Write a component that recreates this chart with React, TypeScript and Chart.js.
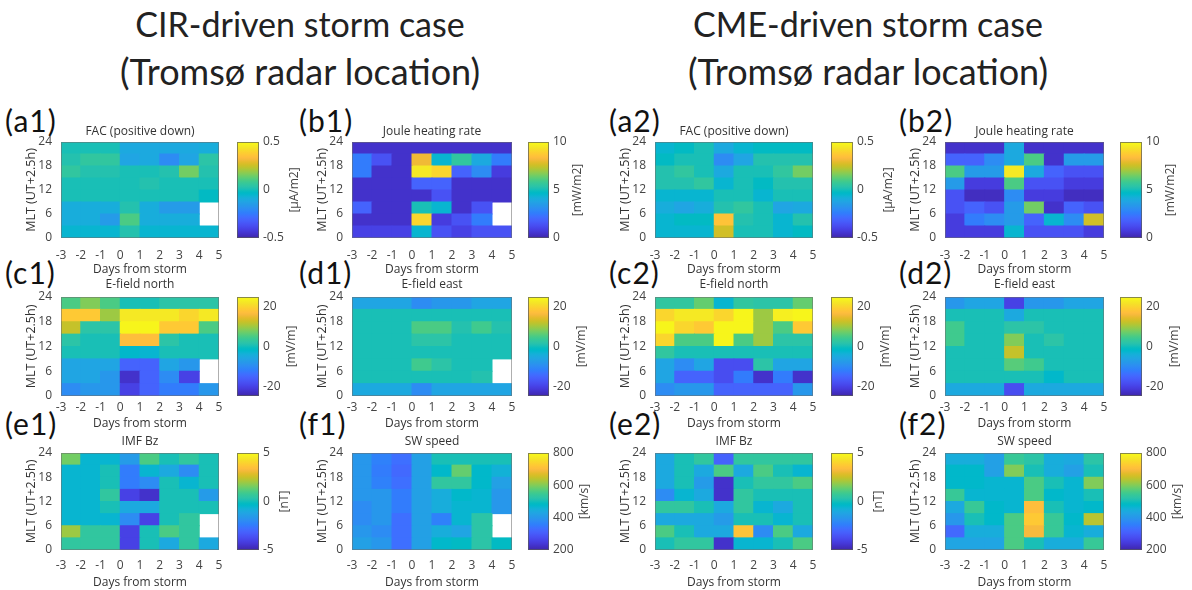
import React, { useEffect, useRef } from 'react';
import { Chart, registerables } from 'chart.js';
Chart.register(...registerables);

// ---------- data ----------
const DAY_CENTERS = [-2.5, -1.5, -0.5, 0.5, 1.5, 2.5, 3.5, 4.5];
const MLT_EDGES = [0, 3, 6, 9, 12, 15, 18, 21, 24];
const X_TICKS = [-3, -2, -1, 0, 1, 2, 3, 4, 5];
const Y_TICKS = [0, 6, 12, 18, 24];

const FAC_TICKS = [-0.5, 0, 0.5];
const JOULE_TICKS = [0, 5, 10];
const EFIELD_TICKS = [-20, 0, 20];
const BZ_TICKS = [-5, 0, 5];
const SW_TICKS = [200, 400, 600, 800];

const FAC_RANGE = [-0.5, 0.5];
const JOULE_RANGE = [0, 10];
const EFIELD_RANGE = [-25, 25];
const BZ_RANGE = [-5, 5];
const SW_RANGE = [200, 800];

// each grid: rows from MLT 21-24 (top) down to MLT 0-3 (bottom); columns day -3..5
const FAC_CIR = [
  [0.0, 0.0, 0.0, -0.1, -0.1, -0.1, -0.1, -0.08],
  [0.03, 0.05, 0.05, -0.12, -0.1, -0.2, -0.12, 0.04],
  [0.05, 0.03, 0.03, 0.0, 0.0, 0.03, 0.15, 0.03],
  [0.0, 0.0, 0.0, 0.0, 0.02, 0.0, 0.0, 0.0],
  [0.0, 0.0, 0.0, 0.0, 0.0, 0.0, 0.0, -0.02],
  [-0.08, -0.08, -0.08, 0.03, -0.08, -0.15, -0.15, null],
  [-0.08, -0.08, -0.15, 0.1, -0.08, -0.08, -0.08, null],
  [-0.05, -0.05, -0.05, 0.03, -0.05, -0.05, -0.05, -0.05],
];
const JOULE_CIR = [
  [0.5, 0.5, 0.5, 0.6, 0.6, 0.6, 0.6, 0.6],
  [2.5, 1.5, 0.6, 8, 4.5, 5.5, 4, 2.5],
  [2.5, 0.5, 0.5, 9.5, 9, 2, 3, 0.8],
  [0.5, 0.5, 0.5, 2, 2, 0.6, 0.5, 0.5],
  [0.5, 0.5, 0.5, 0.6, 1.5, 0.5, 0.5, 0.5],
  [2, 0.6, 0.6, 5, 4.5, 0.6, 1.5, null],
  [0.6, 0.6, 0.6, 9, 0.8, 1.5, 2.5, null],
  [1, 1, 1, 4.5, 1.5, 1, 1.5, 1.5],
];
const EN_CIR = [
  [5, 8, 5, 0, 0, 2, 2, 2],
  [18, 18, 10, 22, 22, 22, 20, 22],
  [12, 2, 2, 24, 24, 18, 18, 5],
  [2, 0, 0, 17, 17, 2, 0, 0],
  [0, 0, 0, -2, -3, 0, 0, 0],
  [-6, -6, -6, -15, -15, -6, -8, null],
  [-6, -6, -8, -22, -15, -10, -20, null],
  [-10, -8, -8, -20, -15, -12, -12, -8],
];
const EE_CIR = [
  [-6, -6, -6, -10, -8, -8, -6, -6],
  [0, 0, 0, 0, 0, 0, 0, 0],
  [0, 0, 0, 5, 5, 1, 4, 1],
  [0, 0, 0, 2, 2, 0, 0, 0],
  [0, 0, 0, 0, 0, 0, 0, 0],
  [0, 0, 0, 4, 2, 0, 0, null],
  [0, 0, 0, 0, 0, 0, 1, null],
  [-5, -5, -5, -10, -6, -6, -6, -6],
];
const BZ_CIR = [
  [1.5, -0.5, -0.5, -1.5, 1, 0, 0.5, 0],
  [-0.5, -0.5, 0, -2.5, -0.5, -1, -2, 0],
  [-0.5, -0.5, 0, -2.5, -2, 0, -0.5, 0],
  [-0.5, -0.5, 0.5, -4, -4.5, 0, 0, -1.5],
  [-0.5, -0.5, 0, -1, -1, 0, 0, 0],
  [-0.5, -0.5, -0.5, -2, -4, 0, 0.5, null],
  [2, 0.5, 0.5, -4, 0, 1, 0.5, null],
  [0.5, 0.5, 0.5, -4, 0, -1, 0.5, -1],
];
const SW_CIR = [
  [400, 360, 340, 420, 500, 500, 500, 500],
  [400, 350, 330, 420, 480, 580, 480, 460],
  [400, 360, 340, 420, 530, 530, 480, 420],
  [400, 400, 350, 420, 450, 480, 470, 400],
  [380, 400, 350, 420, 450, 470, 470, 400],
  [380, 400, 340, 420, 360, 470, 520, null],
  [400, 380, 340, 420, 450, 430, 520, null],
  [420, 400, 340, 420, 480, 490, 520, 490],
];
const FAC_CME = [
  [-0.05, -0.03, 0, -0.1, -0.05, -0.03, -0.03, -0.03],
  [-0.03, 0, 0, -0.2, -0.12, 0.02, 0.02, 0.02],
  [0.02, 0.05, 0, -0.1, 0, 0, 0.05, 0.15],
  [0.02, 0.02, 0.05, -0.05, 0, -0.03, 0.02, 0.02],
  [-0.05, -0.05, -0.05, 0, 0, -0.05, 0, 0],
  [-0.08, -0.12, -0.08, 0.03, 0.05, 0, -0.12, -0.1],
  [-0.05, -0.03, -0.03, 0.35, 0.02, 0, -0.05, 0.02],
  [-0.05, -0.05, -0.05, 0.25, 0, 0, -0.05, -0.03],
];
const JOULE_CME = [
  [0.6, 0.6, 0.6, 4, 0.6, 0.6, 0.6, 0.6],
  [2, 2, 3, 4, 6, 0.6, 3.5, 3.5],
  [6, 3.5, 3.5, 9.5, 4, 2, 1.5, 1.5],
  [3.5, 0.8, 0.8, 6, 1.5, 1.5, 0.8, 0.8],
  [1.5, 0.4, 0.4, 3, 0.8, 0.8, 0.4, 0.4],
  [1.5, 2, 1.5, 3.5, 6.5, 0.6, 2, 1.5],
  [0.8, 2.5, 3, 3.5, 2, 4.5, 3, 7.5],
  [0.8, 0.8, 0.8, 4.5, 1.5, 1.5, 1.5, 0.8],
];
const EN_CME = [
  [3, 3, 7, -3, 3, 2, 2, 7],
  [20, 22, 22, 20, 24, 10, 23, 24],
  [24, 20, 18, 24, 24, 10, 5, 18],
  [20, 5, 5, 24, 5, 10, 2, 2],
  [3, 0, 0, 0, 0, 0, 0, 0],
  [-6, -10, -6, -18, -18, 2, -6, -6],
  [-6, -15, -15, -18, -12, -22, -12, -22],
  [-10, -8, -8, -15, -15, -15, -15, -8],
];
const EE_CME = [
  [-8, -6, -6, -20, -8, -8, -6, -6],
  [0, 0, 0, -5, 0, 0, 0, 0],
  [4, 0, 0, 2, 2, 0, 0, 0],
  [4, 0, 0, 8, 0, 2, 0, 0],
  [0, 0, 0, 12, 0, 0, 0, 0],
  [0, 0, 0, 6, 4, 0, 0, 0],
  [0, 0, 0, 0, 0, -2, 0, 0],
  [-5, -5, -5, -18, -5, -5, -5, -5],
];
const BZ_CME = [
  [-1, 0, 0.5, -3, 0.5, 0.5, 0.5, 0.5],
  [-1, 0, -1, 1, -1, 1, 0, -0.5],
  [-1, 0, -1.5, -4.5, 0, 0.5, 0.5, 1],
  [-2, -0.5, -1, -4.5, 0.5, 0, 0, 0],
  [0.5, 0.5, 0, -1, 0.5, -0.5, -1, 0],
  [-1, -1, -1, -1.5, 0, 0, -0.5, 0],
  [1, 0, -1, -1, 3.5, -2, 1, -1],
  [0, 0.5, 0.5, -4.5, -0.5, -0.5, 0, 1],
];
const SW_CME = [
  [450, 450, 420, 540, 520, 450, 440, 520],
  [480, 480, 420, 600, 500, 450, 420, 500],
  [480, 480, 470, 470, 560, 500, 470, 600],
  [540, 470, 470, 470, 560, 480, 470, 500],
  [440, 540, 480, 470, 700, 500, 470, 480],
  [400, 500, 480, 560, 720, 540, 480, 640],
  [330, 450, 450, 560, 690, 540, 470, 450],
  [430, 430, 430, 560, 500, 450, 450, 540],
];

// ---------- colormap (parula) ----------
const PARULA = [
  [0.2422, 0.1504, 0.6603], [0.2504, 0.165, 0.7076], [0.2578, 0.1818, 0.7511], [0.2647, 0.1978, 0.7952],
  [0.2706, 0.2147, 0.8364], [0.2751, 0.2342, 0.871], [0.2783, 0.2559, 0.8991], [0.2803, 0.2782, 0.9221],
  [0.2813, 0.3006, 0.9414], [0.281, 0.3228, 0.9579], [0.2795, 0.3447, 0.9717], [0.276, 0.3667, 0.9829],
  [0.2699, 0.3892, 0.9906], [0.2602, 0.4123, 0.9952], [0.244, 0.4358, 0.9988], [0.2206, 0.4603, 0.9973],
  [0.1963, 0.4847, 0.9892], [0.1834, 0.5074, 0.9798], [0.1786, 0.5289, 0.9682], [0.1764, 0.5499, 0.952],
  [0.1687, 0.5703, 0.9359], [0.154, 0.5902, 0.9218], [0.146, 0.6091, 0.9079], [0.138, 0.6276, 0.8973],
  [0.1248, 0.6459, 0.8883], [0.1113, 0.6635, 0.8763], [0.0952, 0.6798, 0.8598], [0.0689, 0.6948, 0.8394],
  [0.0297, 0.7082, 0.8163], [0.0036, 0.7203, 0.7917], [0.0067, 0.7312, 0.766], [0.0433, 0.7411, 0.7394],
  [0.0964, 0.75, 0.712], [0.1408, 0.7584, 0.6842], [0.1717, 0.767, 0.6554], [0.1938, 0.7758, 0.6251],
  [0.2161, 0.7843, 0.5923], [0.247, 0.7918, 0.5567], [0.2906, 0.7973, 0.5188], [0.3406, 0.8008, 0.4789],
  [0.3909, 0.8029, 0.4354], [0.4456, 0.8024, 0.3909], [0.5044, 0.7993, 0.348], [0.5616, 0.7942, 0.3045],
  [0.6174, 0.7876, 0.2612], [0.672, 0.7793, 0.2227], [0.7242, 0.7698, 0.191], [0.7738, 0.7598, 0.1646],
  [0.8203, 0.7498, 0.1535], [0.8634, 0.7406, 0.1596], [0.9035, 0.733, 0.1774], [0.9393, 0.7288, 0.21],
  [0.9728, 0.7298, 0.2394], [0.9956, 0.7434, 0.2371], [0.997, 0.7659, 0.2199], [0.9952, 0.7893, 0.2028],
  [0.9892, 0.8136, 0.1885], [0.9786, 0.8386, 0.1766], [0.9676, 0.8639, 0.1643], [0.961, 0.889, 0.1537],
  [0.9597, 0.9135, 0.1423], [0.9628, 0.9373, 0.1265], [0.9691, 0.9606, 0.1064], [0.9769, 0.9839, 0.0805],
];
const rgb = (c: number[]) => `rgb(${Math.round(c[0] * 255)},${Math.round(c[1] * 255)},${Math.round(c[2] * 255)})`;
function colorFor(v: number, range: number[]) {
  const t = (v - range[0]) / (range[1] - range[0]);
  const i = Math.max(0, Math.min(63, Math.floor(t * 64)));
  return rgb(PARULA[i]);
}

// ---------- layout ----------
const COLS = [
  { L: 61, R: 219, cbL: 237, cbR: 259, labelX: 5 },
  { L: 352, R: 512, cbL: 528, cbR: 549, labelX: 299 },
  { L: 655, R: 813, cbL: 831, cbR: 853, labelX: 609 },
  { L: 945, R: 1104, cbL: 1120, cbR: 1142, labelX: 899 },
];
const ROWS = [
  { T: 142, B: 238, titleGap: 2.8, tickPad: 10, axisH: 39, labelTop: 105 },
  { T: 297, B: 396, titleGap: 4.8, tickPad: 4, axisH: 35, labelTop: 257 },
  { T: 453, B: 550, titleGap: 3.8, tickPad: 8, axisH: 39.5, labelTop: 408 },
];

const PANELS = [
  { label: '(a1)', title: 'FAC (positive down)', unit: '[μA/m2]', grid: FAC_CIR, range: FAC_RANGE, ticks: FAC_TICKS, col: 0, row: 0 },
  { label: '(b1)', title: 'Joule heating rate', unit: '[mW/m2]', grid: JOULE_CIR, range: JOULE_RANGE, ticks: JOULE_TICKS, col: 1, row: 0 },
  { label: '(c1)', title: 'E-field north', unit: '[mV/m]', grid: EN_CIR, range: EFIELD_RANGE, ticks: EFIELD_TICKS, col: 0, row: 1 },
  { label: '(d1)', title: 'E-field east', unit: '[mV/m]', grid: EE_CIR, range: EFIELD_RANGE, ticks: EFIELD_TICKS, col: 1, row: 1 },
  { label: '(e1)', title: 'IMF Bz', unit: '[nT]', grid: BZ_CIR, range: BZ_RANGE, ticks: BZ_TICKS, col: 0, row: 2 },
  { label: '(f1)', title: 'SW speed', unit: '[km/s]', grid: SW_CIR, range: SW_RANGE, ticks: SW_TICKS, col: 1, row: 2 },
  { label: '(a2)', title: 'FAC (positive down)', unit: '[μA/m2]', grid: FAC_CME, range: FAC_RANGE, ticks: FAC_TICKS, col: 2, row: 0 },
  { label: '(b2)', title: 'Joule heating rate', unit: '[mW/m2]', grid: JOULE_CME, range: JOULE_RANGE, ticks: JOULE_TICKS, col: 3, row: 0 },
  { label: '(c2)', title: 'E-field north', unit: '[mV/m]', grid: EN_CME, range: EFIELD_RANGE, ticks: EFIELD_TICKS, col: 2, row: 1 },
  { label: '(d2)', title: 'E-field east', unit: '[mV/m]', grid: EE_CME, range: EFIELD_RANGE, ticks: EFIELD_TICKS, col: 3, row: 1 },
  { label: '(e2)', title: 'IMF Bz', unit: '[nT]', grid: BZ_CME, range: BZ_RANGE, ticks: BZ_TICKS, col: 2, row: 2 },
  { label: '(f2)', title: 'SW speed', unit: '[km/s]', grid: SW_CME, range: SW_RANGE, ticks: SW_TICKS, col: 3, row: 2 },
];

const FONT = '"Open Sans", "DejaVu Sans", sans-serif';
const TEXT = '#444';
const Y_AXIS_W = 37.5;

const boxPlugin = {
  id: 'box',
  afterDraw(chart: any) {
    const { ctx, chartArea: a } = chart;
    ctx.save();
    ctx.strokeStyle = 'rgba(110,110,110,0.55)';
    ctx.lineWidth = 1;
    ctx.strokeRect(Math.round(a.left) + 0.5, Math.round(a.top) + 0.5, Math.round(a.right - a.left) - 1, Math.round(a.bottom - a.top) - 1);
    ctx.restore();
  },
};

function HeatPanel({ p }: { p: any }) {
  const ref = useRef<HTMLCanvasElement>(null);
  const c = COLS[p.col];
  const r = ROWS[p.row];
  const cl = Math.floor(c.L - 40);
  const ct = Math.floor(r.T - 24);
  const cr = Math.ceil(c.R + 8);
  const cb = Math.ceil(r.B + r.axisH);
  const W = cr - cl;
  const H = cb - ct;
  useEffect(() => {
    const cells: any[] = [];
    const colors: string[] = [];
    p.grid.forEach((rowVals: (number | null)[], ri: number) => {
      const bin = 7 - ri;
      rowVals.forEach((v, ci) => {
        if (v === null || v === undefined) return;
        cells.push({ x: DAY_CENTERS[ci], y: [MLT_EDGES[bin], MLT_EDGES[bin + 1]] });
        colors.push(colorFor(v, p.range));
      });
    });
    const chart = new Chart(ref.current!, {
      type: 'bar',
      data: {
        datasets: [{
          data: cells,
          backgroundColor: colors,
          borderWidth: 0,
          barPercentage: 1,
          categoryPercentage: 1,
          inflateAmount: 0.5,
        } as any],
      },
      options: {
        animation: false,
        responsive: false,
        events: [],
        layout: {
          padding: {
            left: c.L - Y_AXIS_W - cl,
            top: r.T - 14.4 - r.titleGap - ct,
            right: cr - c.R,
            bottom: cb - (r.B + r.axisH),
          },
        },
        plugins: {
          legend: { display: false },
          tooltip: { enabled: false },
          title: {
            display: true,
            fullSize: false,
            text: p.title,
            color: '#333',
            font: { family: FONT, size: 12, weight: 'normal', lineHeight: 1.2 },
            padding: { top: 0, bottom: r.titleGap },
          },
        },
        scales: {
          x: {
            type: 'linear',
            min: -3,
            max: 5,
            offset: false,
            grid: { display: false, drawTicks: false, offset: false },
            border: { display: false },
            afterBuildTicks: (s: any) => { s.ticks = X_TICKS.map((v) => ({ value: v })); },
            ticks: {
              color: TEXT,
              font: { family: FONT, size: 12, lineHeight: 1.2 },
              padding: r.tickPad,
              maxRotation: 0,
              autoSkip: false,
              callback: (v: any) => String(v),
            },
            title: {
              display: true,
              text: 'Days from storm',
              color: '#333',
              font: { family: FONT, size: 12, lineHeight: 1.2 },
              padding: 0,
            },
            afterFit: (s: any) => { s.height = r.axisH; s.paddingLeft = 0; s.paddingRight = 0; },
          },
          y: {
            type: 'linear',
            min: 0,
            max: 24,
            grid: { display: false, drawTicks: false },
            border: { display: false },
            afterBuildTicks: (s: any) => { s.ticks = Y_TICKS.map((v) => ({ value: v })); },
            ticks: {
              color: TEXT,
              font: { family: FONT, size: 12, lineHeight: 1.2 },
              padding: 9,
              callback: (v: any) => String(v),
            },
            title: {
              display: true,
              text: 'MLT (UT+2.5h)',
              color: '#333',
              font: { family: FONT, size: 12.5, lineHeight: 1.2 },
              padding: 0,
            },
            afterFit: (s: any) => { s.width = Y_AXIS_W; s.paddingTop = 0; s.paddingBottom = 0; },
          },
        },
      } as any,
      plugins: [boxPlugin],
    });
    return () => chart.destroy();
  }, []);
  return <canvas ref={ref} width={W} height={H} style={{ position: 'absolute', left: cl, top: ct }} />;
}

function ColorBar({ p }: { p: any }) {
  const ref = useRef<HTMLCanvasElement>(null);
  const c = COLS[p.col];
  const r = ROWS[p.row];
  const AXW = 70;
  const left = c.cbL;
  const top = r.T - 8;
  const W = c.cbR - c.cbL + AXW;
  const H = r.B - r.T + 16;
  useEffect(() => {
    const unitPlugin = {
      id: 'unit',
      afterDraw(chart: any) {
        const { ctx, chartArea: a } = chart;
        const ys = chart.scales.y;
        ctx.save();
        ctx.strokeStyle = 'rgba(90,90,90,0.7)';
        ctx.lineWidth = 1;
        ctx.strokeRect(Math.round(a.left) + 0.5, Math.round(a.top) + 0.5, Math.round(a.right - a.left) - 1, Math.round(a.bottom - a.top) - 1);
        ctx.font = `12px ${FONT}`;
        let maxW = 0;
        ys.ticks.forEach((t: any) => { maxW = Math.max(maxW, ctx.measureText(String(t.value)).width); });
        const x = a.right + 4 + maxW + 11;
        ctx.translate(x, (a.top + a.bottom) / 2);
        ctx.rotate(-Math.PI / 2);
        ctx.textAlign = 'center';
        ctx.textBaseline = 'middle';
        ctx.fillStyle = TEXT;
        ctx.fillText(p.unit, 0, 0);
        ctx.restore();
      },
    };
    const chart = new Chart(ref.current!, {
      type: 'bar',
      data: {
        labels: [''],
        datasets: [{
          data: [[p.range[0], p.range[1]]],
          backgroundColor: (ctx: any) => {
            const { chart } = ctx;
            const a = chart.chartArea;
            if (!a) return 'transparent';
            const g = chart.ctx.createLinearGradient(0, a.bottom, 0, a.top);
            PARULA.forEach((col, i) => g.addColorStop(i / (PARULA.length - 1), rgb(col)));
            return g;
          },
          borderWidth: 0,
          barPercentage: 1,
          categoryPercentage: 1,
          inflateAmount: 0,
        } as any],
      },
      options: {
        animation: false,
        responsive: false,
        events: [],
        layout: { padding: { top: 8, bottom: 8, left: 0, right: 0 } },
        plugins: { legend: { display: false }, tooltip: { enabled: false }, title: { display: false } },
        scales: {
          x: { display: false },
          y: {
            position: 'right',
            min: p.range[0],
            max: p.range[1],
            grid: { display: false, drawTicks: false },
            border: { display: false },
            afterBuildTicks: (s: any) => { s.ticks = p.ticks.map((v: number) => ({ value: v })); },
            ticks: {
              color: TEXT,
              font: { family: FONT, size: 12, lineHeight: 1.2 },
              padding: 4,
              callback: (v: any) => String(v),
            },
            afterFit: (s: any) => { s.width = AXW; s.paddingTop = 0; s.paddingBottom = 0; },
          },
        },
      } as any,
      plugins: [unitPlugin],
    });
    return () => chart.destroy();
  }, []);
  return <canvas ref={ref} width={W} height={H} style={{ position: 'absolute', left, top }} />;
}

const HEAD_FONT = 'Lato, "Open Sans", sans-serif';

export default function App() {
  return (
    <div style={{ position: 'absolute', left: 0, top: 0, width: 1192, height: 590, background: '#fff', overflow: 'hidden' }}>
      <div style={{ position: 'absolute', left: 100, width: 400, top: 4, textAlign: 'center', font: `34px/40px ${HEAD_FONT}`, color: '#222' }}>CIR-driven storm case</div>
      <div style={{ position: 'absolute', left: 100, width: 400, top: 51, textAlign: 'center', font: `36px/40px ${HEAD_FONT}`, color: '#222' }}>(Tromsø radar location)</div>
      <div style={{ position: 'absolute', left: 668, width: 400, top: 4, textAlign: 'center', font: `34px/40px ${HEAD_FONT}`, color: '#222' }}>CME-driven storm case</div>
      <div style={{ position: 'absolute', left: 668, width: 400, top: 51, textAlign: 'center', font: `36px/40px ${HEAD_FONT}`, color: '#222' }}>(Tromsø radar location)</div>
      {PANELS.map((p) => (
        <div key={p.label + 'l'} style={{ position: 'absolute', left: COLS[p.col].labelX, top: ROWS[p.row].labelTop, font: `30px/30px ${HEAD_FONT}`, letterSpacing: '1px', color: '#111', whiteSpace: 'nowrap' }}>{p.label}</div>
      ))}
      {PANELS.map((p) => (
        <HeatPanel key={p.label} p={p} />
      ))}
      {PANELS.map((p) => (
        <ColorBar key={p.label + 'c'} p={p} />
      ))}
    </div>
  );
}
